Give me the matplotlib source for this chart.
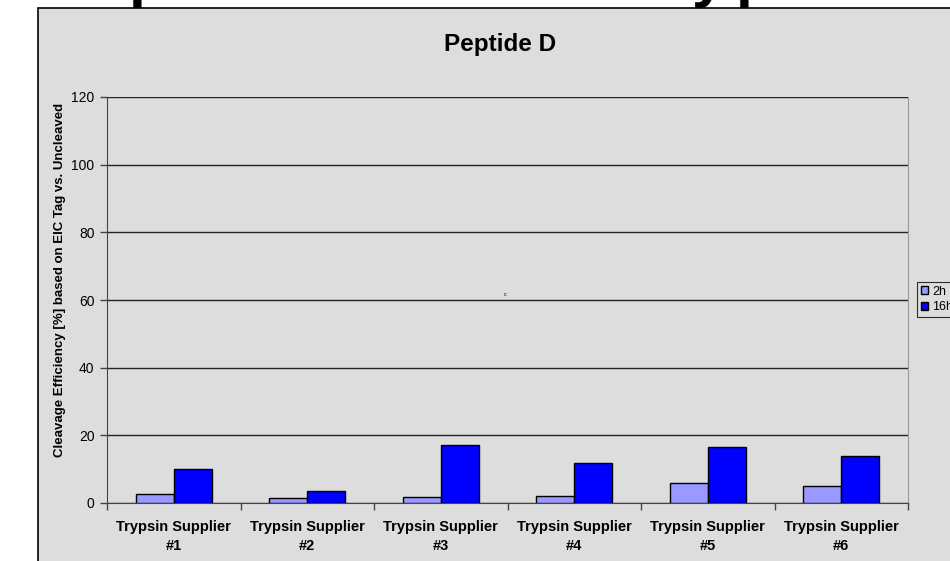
import matplotlib

matplotlib.use('Agg')
import numpy as np
import matplotlib.pyplot as plt
from matplotlib.patches import Rectangle

plt.rcParams['font.family'] = ['Liberation Sans', 'DejaVu Sans']

suppliers = ['Trypsin Supplier\n#1', 'Trypsin Supplier\n#2', 'Trypsin Supplier\n#3',
             'Trypsin Supplier\n#4', 'Trypsin Supplier\n#5', 'Trypsin Supplier\n#6']
eff_2h = [2.6, 1.5, 1.8, 2.1, 6.0, 5.1]
eff_16h = [10.0, 3.5, 17.1, 11.8, 16.5, 13.9]
yticks = [0, 20, 40, 60, 80, 100, 120]

W, H = 950, 561
fig = plt.figure(figsize=(W / 100, H / 100), dpi=100)
fig.patch.set_facecolor('white')

# slide title behind the chart, only its descenders show
fig.text(129 / W, 1 + 5 / H, 'p', fontsize=44, fontweight='bold', ha='left', va='baseline')
fig.text(692 / W, 1 + 5 / H, 'y', fontsize=44, fontweight='bold', ha='left', va='baseline')
fig.text(736 / W, 1 + 5 / H, 'p', fontsize=44, fontweight='bold', ha='left', va='baseline')

# chart panel
panel = Rectangle((38 / W, -0.1), 1.0, 1.1 - 8 / H, transform=fig.transFigure,
                  facecolor='#dddddd', edgecolor='black', linewidth=1.2, zorder=1)
fig.patches.append(panel)

ax = fig.add_axes([107 / W, 1 - 503 / H, (908 - 107) / W, (503 - 97) / H])
ax.set_facecolor('#dddddd')
ax.set_zorder(2)

x = np.arange(len(suppliers))
w = 2 / 7
ax.bar(x - w / 2, eff_2h, w, color='#9999ff', edgecolor='black', linewidth=1, label='2h', zorder=3)
ax.bar(x + w / 2, eff_16h, w, color='#0000ff', edgecolor='black', linewidth=1, label='16h', zorder=3)

ax.set_ylim(0, 120)
ax.set_xlim(-0.5, len(suppliers) - 0.5)
ax.set_yticks(yticks)
ax.yaxis.grid(True, color='#222222', linewidth=1)
ax.set_axisbelow(True)
ax.tick_params(axis='y', labelsize=10, length=5, width=1, color='#444444', pad=4)
ax.set_xticks(x)
ax.set_xticklabels(suppliers, fontsize=10.5, fontweight='bold', linespacing=1.45)
ax.set_xticks(np.arange(len(suppliers) + 1) - 0.5, minor=True)
ax.tick_params(axis='x', which='major', length=0, pad=12)
ax.tick_params(axis='x', which='minor', length=5, width=1, color='#444444')
for s in ['left', 'bottom']:
    ax.spines[s].set_color('#444444')
ax.spines['top'].set_visible(False)
ax.spines['right'].set_color('#999999')

fig.text(60 / W, 1 - 280 / H, 'Cleavage Efficiency [%] based on EIC Tag vs. Uncleaved', fontsize=9.5,
         fontweight='bold', rotation=90, ha='center', va='center', zorder=3)
fig.text(500 / W, 1 - 44 / H, 'Peptide D', fontsize=17.5, fontweight='bold', ha='center', va='center', zorder=3)
fig.text(505 / W, 1 - 295 / H, 'c', fontsize=4, ha='center', va='center', zorder=3)

leg = ax.legend(loc='upper left', bbox_to_anchor=(917 / W, 1 - 282 / H), bbox_transform=fig.transFigure,
                fontsize=9, frameon=True, fancybox=False, handlelength=0.6, handleheight=0.6,
                handletextpad=0.3, borderpad=0.3, labelspacing=0.3, borderaxespad=0)
leg.get_frame().set_facecolor('#dddddd')
leg.get_frame().set_edgecolor('black')
leg.get_frame().set_linewidth(0.8)

fig.savefig('out.png', dpi=100)
